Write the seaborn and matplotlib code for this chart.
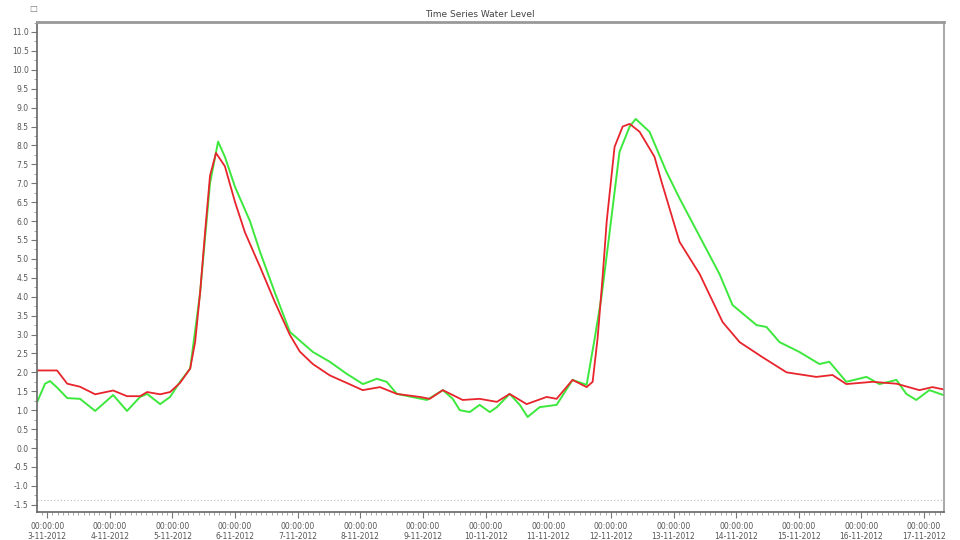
import matplotlib
matplotlib.use("Agg")
import matplotlib.pyplot as plt
import matplotlib.dates as mdates
from matplotlib.ticker import MultipleLocator, FuncFormatter
import seaborn as sns
import pandas as pd
import numpy as np

# ---- data (hours after 3-11-2012 00:00, water level) ----
red_hours = [-3.8, 3.8, 7.7, 12.6, 18.4, 25.3, 30.6, 35.6, 38.3, 43.3, 47.1, 50.9, 54.8, 56.7,
             58.6, 60.5, 62.4, 64.7, 68.1, 72.0, 75.8, 81.5, 87.3, 93.0, 96.8, 101.8, 108.3,
             114.8, 120.9, 127.5, 134.0, 142.8, 146.6, 151.6, 159.2, 165.7, 172.3, 177.2,
             183.7, 191.4, 195.2, 201.3, 206.7, 209.0, 210.9, 212.8, 214.4, 217.4, 220.5,
             223.2, 227.0, 232.7, 235.4, 242.3, 250.0, 258.8, 265.3, 274.1, 283.3, 294.7,
             300.9, 306.2, 316.2, 325.4, 334.2, 339.2, 343.4]
red_level = [2.05, 2.05, 1.70, 1.62, 1.42, 1.52, 1.37, 1.37, 1.48, 1.42, 1.48, 1.72, 2.10, 2.8,
             4.1, 5.7, 7.2, 7.8, 7.45, 6.5, 5.7, 4.8, 3.85, 2.99, 2.55, 2.22, 1.92,
             1.72, 1.53, 1.61, 1.43, 1.35, 1.30, 1.53, 1.27, 1.30, 1.22, 1.43,
             1.16, 1.35, 1.30, 1.80, 1.61, 1.75, 2.9, 4.5, 6.0, 7.96, 8.5,
             8.57, 8.36, 7.7, 7.04, 5.45, 4.6, 3.33, 2.8, 2.4, 2.0, 1.88,
             1.93, 1.69, 1.75, 1.70, 1.53, 1.61, 1.55]

green_hours = [-3.8, -0.8, 1.1, 3.8, 7.7, 12.6, 18.4, 25.3, 30.6, 35.6, 38.3, 43.3, 47.1, 50.9,
               54.8, 58.6, 62.4, 65.5, 68.1, 72.0, 77.7, 81.5, 87.3, 93.0, 101.8, 108.3, 114.8,
               121.0, 126.3, 130.1, 134.0, 145.5, 151.6, 155.4, 158.1, 161.9, 165.7, 169.6,
               172.3, 177.2, 181.1, 184.1, 188.7, 195.2, 201.3, 206.7, 209.8, 212.4, 215.5,
               219.3, 223.2, 225.5, 230.8, 237.3, 242.3, 251.1, 257.6, 262.6, 271.8, 275.6,
               280.6, 288.2, 295.9, 299.7, 306.2, 313.9, 318.9, 325.4, 329.2, 333.0, 338.0, 343.4]
green_level = [1.22, 1.70, 1.77, 1.60, 1.32, 1.30, 0.98, 1.40, 0.98, 1.35, 1.43, 1.16, 1.35, 1.75,
               2.10, 4.1, 7.0, 8.1, 7.7, 6.9, 6.0, 5.2, 4.1, 3.07, 2.54, 2.28, 1.96,
               1.69, 1.83, 1.75, 1.43, 1.27, 1.53, 1.30, 1.00, 0.95, 1.14, 0.95,
               1.08, 1.43, 1.14, 0.82, 1.08, 1.14, 1.80, 1.67, 2.9, 4.0, 5.7,
               7.83, 8.5, 8.7, 8.36, 7.3, 6.6, 5.45, 4.6, 3.78, 3.25, 3.2,
               2.8, 2.54, 2.22, 2.28, 1.75, 1.88, 1.69, 1.80, 1.43, 1.27, 1.53, 1.40]

title = "Time Series Water Level"
start = pd.Timestamp("2012-11-03 00:00:00")

red_df = pd.DataFrame({"time": start + pd.to_timedelta(red_hours, unit="h"), "level": red_level})
green_df = pd.DataFrame({"time": start + pd.to_timedelta(green_hours, unit="h"), "level": green_level})

sns.set_theme(style="white")
plt.rcParams["font.family"] = ["DejaVu Sans"]

fig = plt.figure(figsize=(9.6, 5.4), dpi=100)
ax = fig.add_axes([0.0385, 0.052, 0.9445, 0.907])

sns.lineplot(data=green_df, x="time", y="level", ax=ax, color="#3de83d", linewidth=1.4)
sns.lineplot(data=red_df, x="time", y="level", ax=ax, color="#e8242c", linewidth=1.3)

ax.axhline(-1.38, color="#bbbbbb", linestyle=(0, (1, 2)), linewidth=0.8, zorder=0)

ax.set_xlim(start + pd.Timedelta(hours=-3.9), start + pd.Timedelta(hours=343.5))
ax.set_ylim(-1.69, 11.26)
ax.set_xlabel("")
ax.set_ylabel("")

ax.xaxis.set_major_locator(mdates.DayLocator())
ax.xaxis.set_minor_locator(mdates.HourLocator(byhour=range(0, 24, 2)))
ax.xaxis.set_major_formatter(FuncFormatter(
    lambda v, p: (lambda d: f"{d:%H:%M:%S}\n{d.day}-{d.month}-{d.year}")(mdates.num2date(v))))
ax.yaxis.set_major_locator(MultipleLocator(0.5))
ax.yaxis.set_minor_locator(MultipleLocator(0.25))
ax.yaxis.set_major_formatter(FuncFormatter(lambda v, p: f"{v:.1f}"))

ax.tick_params(axis="both", which="major", labelsize=5.5, labelcolor="#555555",
               color="#777777", length=4, width=0.8, direction="out", bottom=True, left=True)
ax.tick_params(axis="both", which="minor", color="#999999", length=2, width=0.6,
               direction="out", bottom=True, left=True)
ax.tick_params(axis="x", which="major", pad=3)
ax.tick_params(axis="y", which="major", pad=2)

for side, sp in ax.spines.items():
    sp.set_visible(True)
    sp.set_color("#999999")
    sp.set_linewidth(1.2)
ax.spines["top"].set_linewidth(2.0)
ax.spines["bottom"].set_color("#666666")
ax.spines["left"].set_color("#666666")

fig.text(0.5, 0.974, title, ha="center", va="center", fontsize=6.5, color="#444444")
fig.text(0.035, 0.985, "\u25a1", ha="center", va="center", fontsize=6, color="#777777")

fig.savefig("out.png", dpi=100)
